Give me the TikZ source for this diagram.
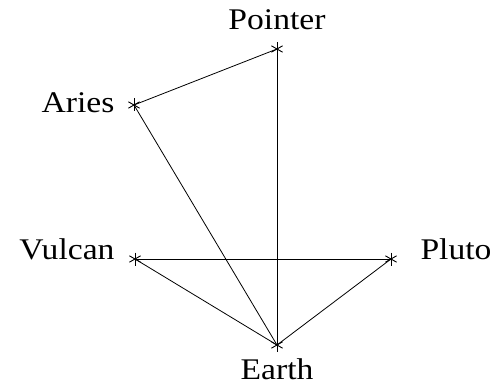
\documentclass[tikz,border=0pt]{standalone}
\usepackage{fontspec}
\setmainfont{Liberation Serif}[FakeStretch=1.12]
\begin{document}
\begin{tikzpicture}[x=1pt,y=-1pt,
  star/.style={circle,inner sep=0pt,minimum size=14pt,
    path picture={
      \draw[line width=0.9pt] (path picture bounding box.center) ++(0,-6.5) -- ++(0,13);
      \draw[line width=0.9pt] (path picture bounding box.center) ++(-5.6,-3.2) -- ++(11.2,6.4);
      \draw[line width=0.9pt] (path picture bounding box.center) ++(-5.6,3.2) -- ++(11.2,-6.4);
    }},
  lab/.style={font=\fontsize{30}{32}\selectfont,inner sep=0pt,anchor=base},
  edge/.style={line width=0.8pt}]
\useasboundingbox (0,0) rectangle (501,385);
\node[star] (pointer) at (277,49) {};
\node[star] (aries) at (134,105) {};
\node[star] (vulcan) at (135,259) {};
\node[star] (pluto) at (391,259) {};
\node[star] (earth) at (277,345) {};
\node[lab] (lpointer) at (277,30) {Pointer};
\node[lab] (laries) at (78,113) {Aries};
\node[lab] (lvulcan) at (67,259) {Vulcan};
\node[lab] (lpluto) at (456,259) {Pluto};
\node[lab] (learth) at (277,379) {Earth};
\draw[edge] (pointer.center) -- (aries.center);
\draw[edge] (pointer.center) -- (earth.center);
\draw[edge] (aries.center) -- (earth.center);
\draw[edge] (vulcan.center) -- (pluto.center);
\draw[edge] (vulcan.center) -- (earth.center);
\draw[edge] (pluto.center) -- (earth.center);
\end{tikzpicture}
\end{document}
